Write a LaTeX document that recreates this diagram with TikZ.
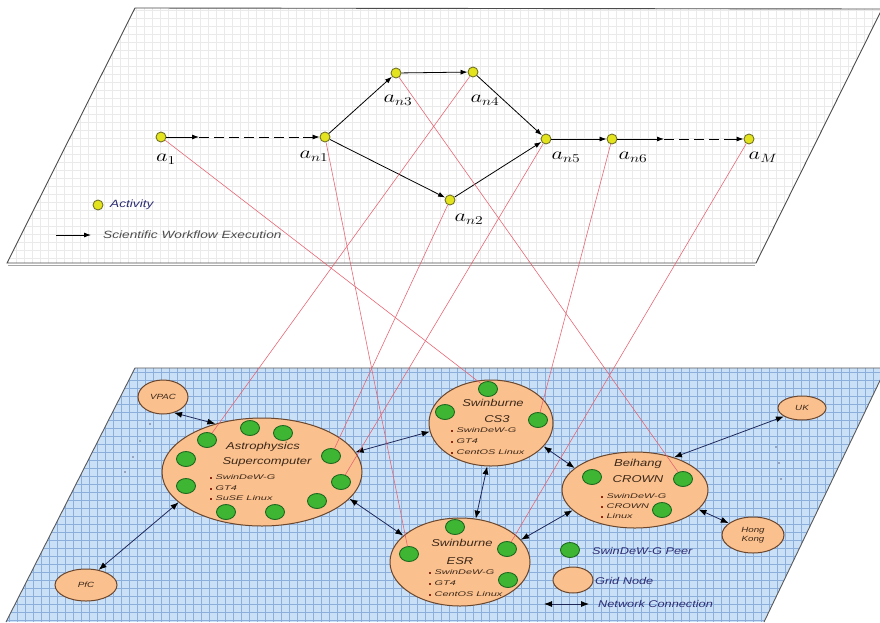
\documentclass[tikz,border=0pt]{standalone}
\usepackage{fontspec}
\usepackage{graphicx}
\newfontfamily\lab{Liberation Sans}
\usetikzlibrary{arrows.meta,shapes.geometric}
\definecolor{gridtop}{RGB}{234,234,234}
\definecolor{bluefill}{RGB}{202,224,247}
\definecolor{bluegrid}{RGB}{140,174,218}
\definecolor{nodefill}{RGB}{250,192,142}
\definecolor{nodeedge}{RGB}{105,70,45}
\definecolor{peerfill}{RGB}{62,182,52}
\definecolor{peeredge}{RGB}{30,105,30}
\definecolor{actfill}{RGB}{228,228,30}
\definecolor{actedge}{RGB}{115,115,40}
\definecolor{maplink}{RGB}{232,95,110}
\definecolor{txtblue}{RGB}{45,45,115}
\definecolor{navyline}{RGB}{30,40,90}
\definecolor{ttlc}{RGB}{60,40,25}
\definecolor{bulc}{RGB}{140,40,20}
\newcommand\sx[1]{\scalebox{1.3}[1]{#1}}
\newcommand\sxb[1]{\scalebox{1.6}[1]{#1}}
\newcommand\bl{\textcolor{bulc}{\rule[0.8pt]{1.4pt}{1.8pt}}\hspace{2pt}}
\begin{document}
\begin{tikzpicture}[x=1pt,y=-1pt,
  act/.style={circle,draw=actedge,fill=actfill,line width=0.9pt,inner sep=0pt,minimum size=10pt},
  peer/.style={ellipse,draw=peeredge,fill=peerfill,line width=0.9pt,inner sep=0pt,minimum width=19pt,minimum height=15pt},
  gnode/.style={ellipse,draw=nodeedge,fill=nodefill,line width=1pt,inner sep=0pt},
  flow/.style={-{Latex[length=7pt,width=5pt]},line width=0.8pt,black},
  flowdash/.style={line width=0.8pt,black,dash pattern=on 10pt off 5pt},
  net/.style={{Latex[length=8pt,width=6pt,color=black]}-{Latex[length=8pt,width=6pt,color=black]},line width=0.8pt,navyline},
  maplk/.style={maplink,line width=0.55pt},
  alab/.style={inner sep=0pt,font=\fontsize{17}{17}\selectfont},
  ttl/.style={inner sep=0pt,text=ttlc,font=\lab\itshape\fontsize{10}{12}\selectfont},
  bul/.style={inner sep=0pt,anchor=west,text=ttlc,font=\lab\itshape\fontsize{6.8}{7}\selectfont},
  small/.style={inner sep=0pt,text=ttlc,font=\lab\itshape\fontsize{7.5}{8.5}\selectfont,align=center},
  leg/.style={inner sep=0pt,anchor=west,text=txtblue,font=\lab\itshape\fontsize{10.5}{12}\selectfont},
  legb/.style={inner sep=0pt,anchor=west,text=txtblue,font=\lab\itshape\fontsize{9.8}{12}\selectfont},
  dotm/.style={fill=navyline!70,circle,inner sep=0pt,minimum size=1.6pt}
]
\useasboundingbox (0,0) rectangle (880,622);
\fill[white] (0,0) rectangle (880,622);

% ---------- top plane ----------
\begin{scope}
  \clip (135,8) -- (882,9) -- (756,263) -- (7,263) -- cycle;
  \fill[white] (0,0) rectangle (882,270);
  \foreach \x in {0,8,...,880} \draw[gridtop,line width=0.4pt] (\x,0) -- (\x,270);
  \foreach \y in {2,10,...,266} \draw[gridtop,line width=0.4pt] (0,\y) -- (882,\y);
\end{scope}
\draw[black!70,line width=0.9pt] (135,8) -- (882,9) -- (756,263) -- (7,263) -- cycle;
\draw[black!35,line width=1pt] (8,265.5) -- (755,265.5);

% ---------- bottom plane ----------
\begin{scope}
  \clip (135,368) -- (886,368) -- (764,622) -- (6,622) -- cycle;
  \fill[bluefill] (0,360) rectangle (886,622);
  \foreach \x in {1,9,...,881} \draw[bluegrid,line width=0.45pt] (\x,360) -- (\x,622);
  \foreach \y in {372,380,...,620} \draw[bluegrid,line width=0.45pt] (0,\y) -- (886,\y);
\end{scope}
\draw[black!65,line width=0.9pt] (886,368) -- (135,368) -- (6,622);
\draw[black!65,line width=0.9pt] (886,368) -- (764,622);

% ellipsis dots
\foreach \p in {(150,424),(140,441),(133,457),(125,472)} \node[dotm] at \p {};
\foreach \p in {(776,447),(779,463),(781,479)} \node[dotm] at \p {};

% ---------- activities ----------
\node[act] (a1)  at (161,137) {};
\node[act] (an1) at (325,137) {};
\node[act] (an3) at (396,73) {};
\node[act] (an4) at (473,72) {};
\node[act] (an5) at (546,139) {};
\node[act] (an6) at (612,139) {};
\node[act] (aM)  at (749,139) {};
\node[act] (an2) at (450,200) {};

\node[alab] (la1)  at (166,159) {\sx{$a_1$}};
\node[alab] (lan1) at (314,156) {\sx{$a_{n1}$}};
\node[alab] (lan3) at (398,100) {\sx{$a_{n3}$}};
\node[alab] (lan4) at (485,100) {\sx{$a_{n4}$}};
\node[alab] (lan5) at (566,157) {\sx{$a_{n5}$}};
\node[alab] (lan6) at (633,157) {\sx{$a_{n6}$}};
\node[alab] (laM)  at (763,157) {\sx{$a_M$}};
\node[alab] (lan2) at (469,219) {\sx{$a_{n2}$}};

\coordinate (d1a) at (199,137);
\coordinate (d1b) at (303,137);
\coordinate (d2a) at (664,139);
\coordinate (d2b) at (728,139);
\draw[flow] (a1) -- (d1a);
\draw[flowdash] (d1a) -- (d1b);
\draw[flow] (d1b) -- (an1);
\draw[flow] (an1) -- (an3);
\draw[flow] (an1) -- (an2);
\draw[flow] (an3) -- (an4);
\draw[flow] (an4) -- (an5);
\draw[flow] (an2) -- (an5);
\draw[flow] (an5) -- (an6);
\draw[flow] (an6) -- (d2a);
\draw[flowdash] (d2a) -- (d2b);
\draw[flow] (d2b) -- (aM);

% top legend
\node[act] (legact) at (98,205) {};
\node[leg] (legacttxt) at (110,205) {\sx{Activity}};
\coordinate (lfa) at (56,235);
\coordinate (lfb) at (91,235);
\draw[flow] (lfa) -- (lfb);
\node[leg,text=black!70] (legflowtxt) at (103,235) {\sx{Scientific Workflow Execution}};

% ---------- grid nodes ----------
\node[gnode,minimum width=50pt,minimum height=34pt] (vpac) at (163,397) {};
\node[small] at (163,397) {\sx{VPAC}};
\node[gnode,minimum width=62pt,minimum height=32pt] (pfc) at (86,585) {};
\node[small] at (86,585) {\sx{PfC}};
\node[gnode,minimum width=48pt,minimum height=24pt] (uk) at (802,408) {};
\node[small] at (802,408) {\sx{UK}};
\node[gnode,minimum width=62pt,minimum height=36pt] (hk) at (753,535) {};
\node[small] at (753,535) {\sx{Hong}\\\sx{Kong}};

\node[gnode,minimum width=200pt,minimum height=108pt] (astro) at (262,472) {};
\node[gnode,minimum width=124pt,minimum height=86pt] (cs3) at (491,423) {};
\node[gnode,minimum width=146pt,minimum height=76pt] (bh) at (635,490) {};
\node[gnode,minimum width=140pt,minimum height=88pt] (esr) at (460,562) {};

% texts in grid nodes
\node[ttl] at (263,447) {\sx{Astrophysics}};
\node[ttl] at (267,462) {\sx{Supercomputer}};
\node[bul] at (210,477) {\sxb{\bl SwinDeW-G}};
\node[bul] at (210,488) {\sxb{\bl GT4}};
\node[bul] at (210,498) {\sxb{\bl SuSE Linux}};

\node[ttl] at (493,403) {\sx{Swinburne}};
\node[ttl] at (497,419) {\sx{CS3}};
\node[bul] at (451,430) {\sxb{\bl SwinDeW-G}};
\node[bul] at (451,441) {\sxb{\bl GT4}};
\node[bul] at (451,452) {\sxb{\bl CentOS Linux}};

\node[ttl] at (638,464) {\sx{Beihang}};
\node[ttl] at (638,479) {\sx{CROWN}};
\node[bul] at (601,496) {\sxb{\bl SwinDeW-G}};
\node[bul] at (601,506) {\sxb{\bl CROWN}};
\node[bul] at (601,516) {\sxb{\bl Linux}};

\node[ttl] at (462,543) {\sx{Swinburne}};
\node[ttl] at (460,561) {\sx{ESR}};
\node[bul] at (429,572) {\sxb{\bl SwinDeW-G}};
\node[bul] at (429,583) {\sxb{\bl GT4}};
\node[bul] at (429,594) {\sxb{\bl CentOS Linux}};

% peers
\node[peer] (ap1) at (250,428) {};
\node[peer] (ap2) at (283,433) {};
\node[peer] (ap3) at (207,440) {};
\node[peer] (ap4) at (186,459) {};
\node[peer] (ap5) at (331,456) {};
\node[peer] (ap6) at (186,486) {};
\node[peer] (ap7) at (341,482) {};
\node[peer] (ap8) at (317,501) {};
\node[peer] (ap9) at (226,512) {};
\node[peer] (ap10) at (275,512) {};
\node[peer] (cp1) at (488,389) {};
\node[peer] (cp2) at (445,412) {};
\node[peer] (cp3) at (538,420) {};
\node[peer] (bp1) at (592,477) {};
\node[peer] (bp2) at (683,479) {};
\node[peer] (bp3) at (662,510) {};
\node[peer] (ep1) at (455,527) {};
\node[peer] (ep2) at (409,554) {};
\node[peer] (ep3) at (507,549) {};
\node[peer] (ep4) at (508,580) {};

% network connections
\draw[net] (vpac.-55) -- (astro.134);
\draw[net] (pfc.50) -- (astro.200);
\draw[net] (astro.12) -- (cs3.188);
\draw[net] (astro.-17) -- (esr.155);
\draw[net] (cs3.265) -- (esr.70);
\draw[net] (cs3.-24) -- (bh.160);
\draw[net] (esr.20) -- (bh.198);
\draw[net] (bh.40) -- (uk.205);
\draw[net] (bh.-17) -- (hk.154);

% bottom legend
\node[peer] (legpeer) at (570,550) {};
\node[legb] (legpeertxt) at (592,551) {\sx{SwinDeW-G Peer}};
\node[gnode,minimum width=40pt,minimum height=26pt] (leggn) at (573,580) {};
\node[legb] (leggntxt) at (595,581) {\sx{Grid Node}};
\coordinate (lna) at (544,604);
\coordinate (lnb) at (589,604);
\draw[net] (lna) -- (lnb);
\node[legb] (legnettxt) at (598,604) {\sx{Network Connection}};

% mapping of activities onto peers
\draw[maplk] (a1) -- (cp1);
\draw[maplk] (an1) -- (ep2);
\draw[maplk] (an2) -- (ap5);
\draw[maplk] (an3) -- (bp2);
\draw[maplk] (an4) -- (ap3);
\draw[maplk] (an5) -- (ap7);
\draw[maplk] (an6) -- (cp3);
\draw[maplk] (aM) -- (ep3);
\end{tikzpicture}
\end{document}
